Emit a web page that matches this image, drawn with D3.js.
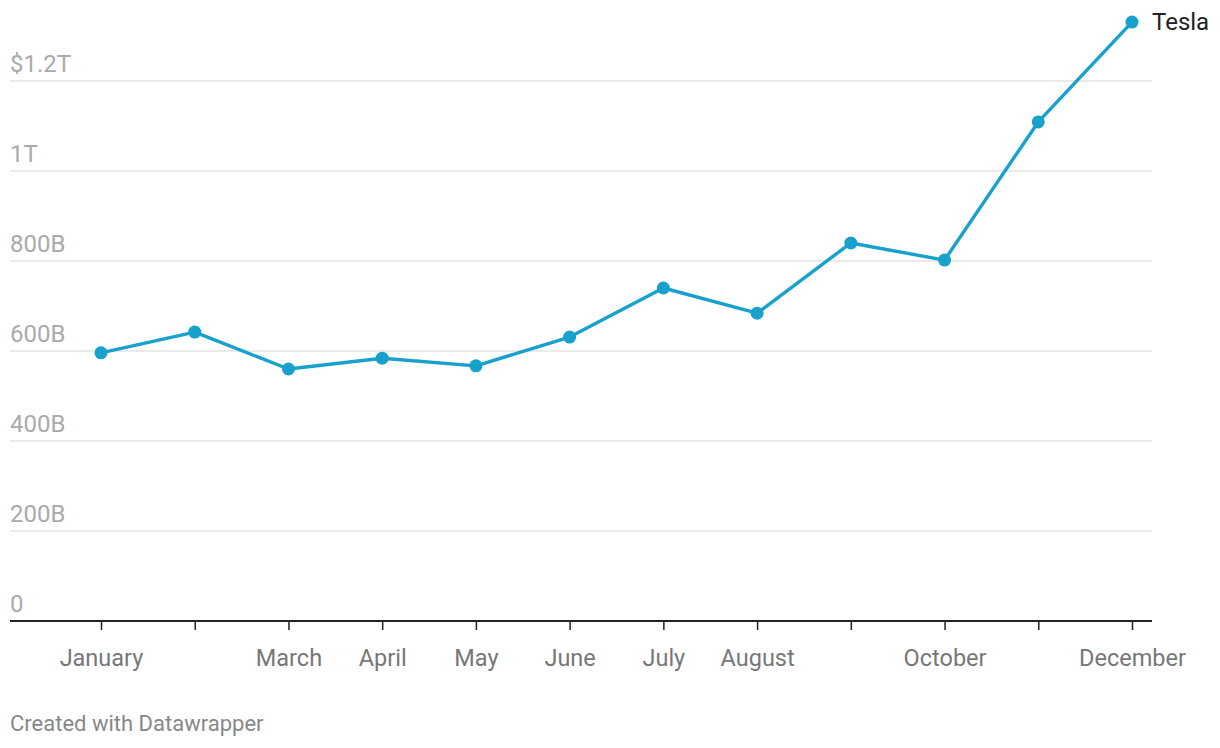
<!DOCTYPE html>
<html><head><meta charset="utf-8">
<script src="https://cdn.jsdelivr.net/npm/d3@7"></script>
<style>body{margin:0;background:#fff;font-family:Roboto,sans-serif;}</style>
</head><body><svg id="c" width="1220" height="748"></svg>
<script>
const months = ["January","February","March","April","May","June","July","August","September","October","November","December"];
const monthLabels = ["January","","March","April","May","June","July","August","","October","","December"];
const teslaValues = [596, 642, 560, 584, 567, 631, 740, 684, 840, 802, 1109, 1331]; // billions USD
const yTicks = [0, 200, 400, 600, 800, 1000, 1200];
const yTickLabels = ["0","200B","400B","600B","800B","1T","$1.2T"];
const seriesName = "Tesla";

const svg = d3.select("#c");
const x = d3.scalePoint().domain(months).range([101, 1132]);
const y = d3.scaleLinear().domain([0, 1200]).range([621, 81]);
const color = "#18a1cd";

// gridlines
svg.append("g").selectAll("line").data(yTicks.filter(d => d > 0)).join("line")
  .attr("x1", 10).attr("x2", 1152).attr("y1", d => y(d)).attr("y2", d => y(d))
  .attr("stroke", "#e3e3e3").attr("stroke-width", 1.5);
svg.append("g").selectAll("text").data(yTicks).join("text")
  .attr("x", 10).attr("y", d => y(d) - 9)
  .attr("font-size", 24).attr("fill", "#aaaaaa").text((d, i) => yTickLabels[i]);

// x axis
const xAxis = d3.axisBottom(x).tickSize(9).tickFormat((d, i) => monthLabels[i]);
const gx = svg.append("g").attr("transform", "translate(0,621)").call(xAxis);
gx.select(".domain").remove();
gx.insert("line", ":first-child").attr("x1", 10).attr("x2", 1152).attr("y1", 0).attr("y2", 0)
  .attr("stroke", "#222").attr("stroke-width", 2);
gx.selectAll(".tick line").attr("stroke", "#222").attr("stroke-width", 1.5);
gx.selectAll(".tick text").attr("font-size", 23.5).attr("fill", "#777").attr("font-family", "Roboto, sans-serif").attr("dy", 0).attr("y", 45);

// line
const data = months.map((m, i) => ({m, v: teslaValues[i]}));
svg.append("path").datum(data)
  .attr("d", d3.line().x(d => x(d.m)).y(d => y(d.v)))
  .attr("fill", "none").attr("stroke", color).attr("stroke-width", 3.4).attr("stroke-linejoin", "round");
svg.append("g").selectAll("circle").data(data).join("circle")
  .attr("cx", d => x(d.m)).attr("cy", d => y(d.v)).attr("r", 6.5).attr("fill", color);

const last = data[data.length - 1];
svg.append("text").attr("x", x(last.m) + 20).attr("y", y(last.v) + 8)
  .attr("font-size", 24).attr("fill", "#222").text(seriesName);

svg.append("text").attr("x", 10).attr("y", 731).attr("font-size", 22).attr("fill", "#888").text("Created with Datawrapper");
</script></body></html>
